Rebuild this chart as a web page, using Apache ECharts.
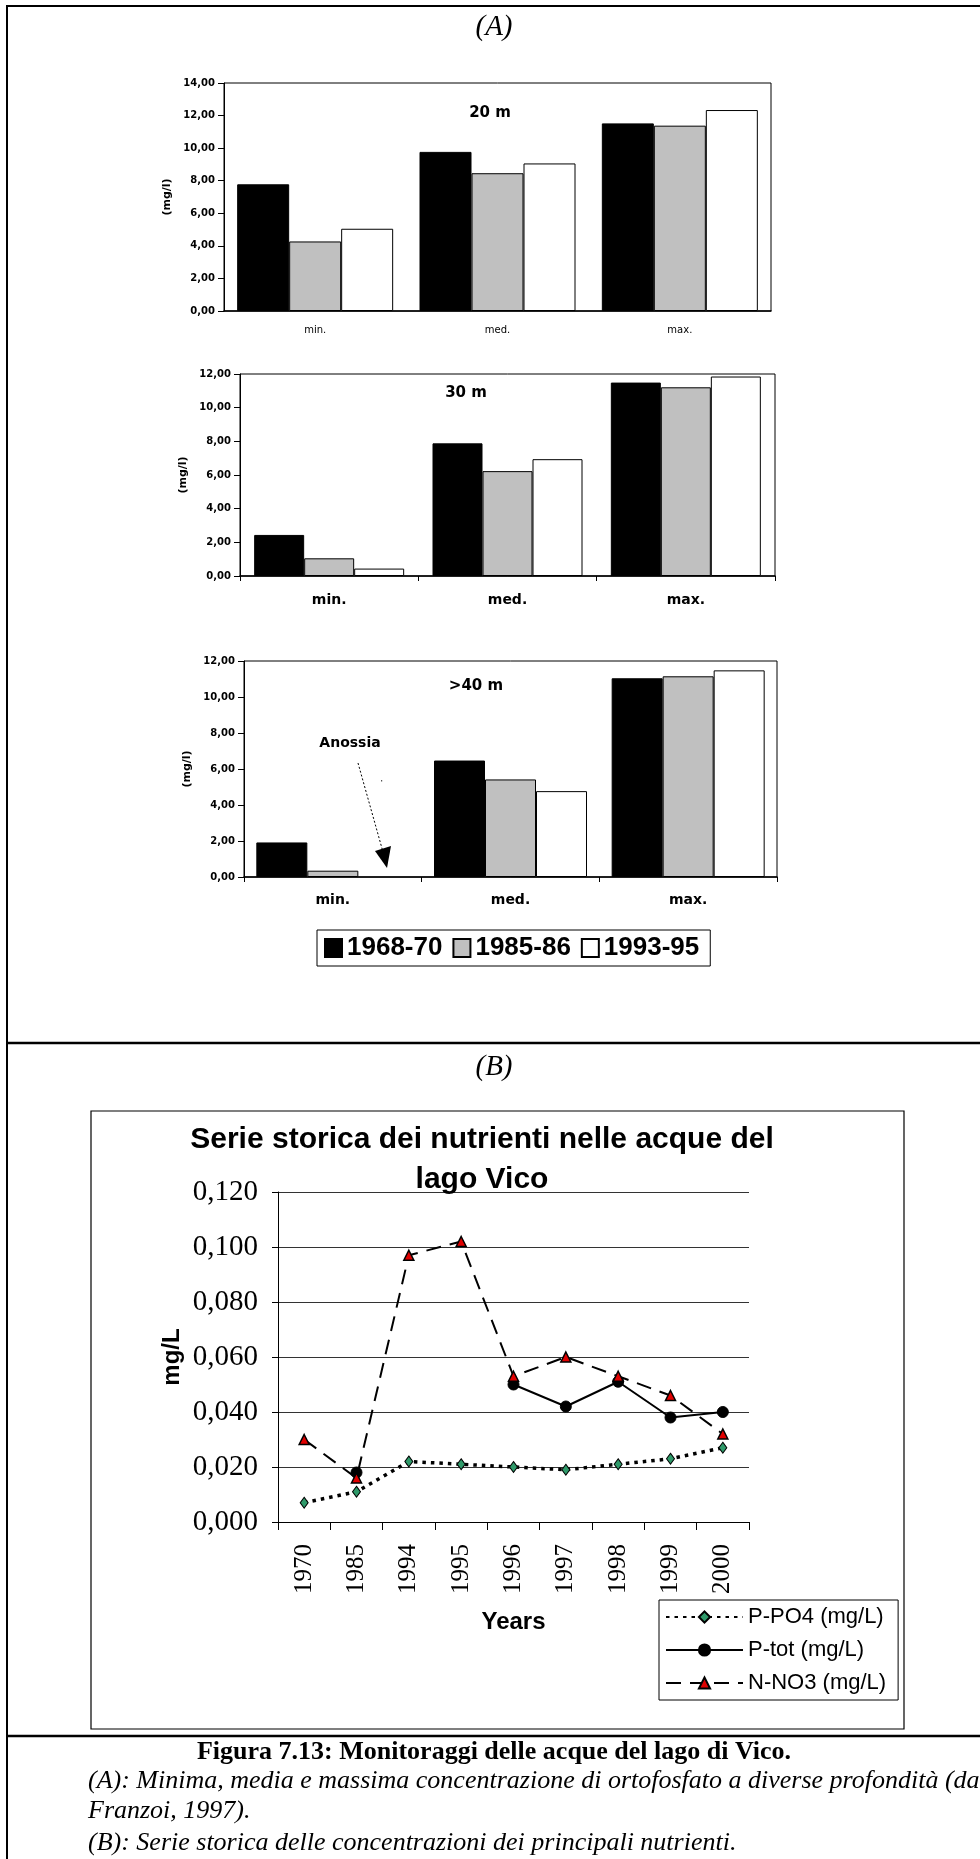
<!DOCTYPE html>
<html><head><meta charset="utf-8">
<script src="https://cdn.jsdelivr.net/npm/echarts@6/dist/echarts.min.js"></script>
<style>html,body{margin:0;padding:0;background:#fff;}#c{width:980px;height:1859px;}</style>
</head><body><div id="c"></div>
<script>
// ---------- DATA ----------
const barCategories = ['min.', 'med.', 'max.'];
const periodNames = ['1968-70', '1985-86', '1993-95'];
const depth20_1968 = [7.78, 9.77, 11.52];
const depth20_1985 = [4.27, 8.46, 11.38];
const depth20_1993 = [5.05, 9.06, 12.34];
const depth30_1968 = [2.44, 7.88, 11.49];
const depth30_1985 = [1.05, 6.23, 11.21];
const depth30_1993 = [0.44, 6.94, 11.85];
const depth40_1968 = [1.92, 6.47, 11.04];
const depth40_1985 = [0.35, 5.42, 11.15];
const depth40_1993 = [null, 4.77, 11.48];
const yTicks20 = ['0,00', '2,00', '4,00', '6,00', '8,00', '10,00', '12,00', '14,00'];
const yTicks30 = ['0,00', '2,00', '4,00', '6,00', '8,00', '10,00', '12,00'];

const years = ['1970', '1985', '1994', '1995', '1996', '1997', '1998', '1999', '2000'];
const lineNames = ['P-PO4 (mg/L)', 'P-tot (mg/L)', 'N-NO3 (mg/L)'];
const pPO4 = [0.007, 0.011, 0.022, 0.021, 0.020, 0.019, 0.021, 0.023, 0.027];
const pTot = [null, 0.018, null, null, 0.050, 0.042, 0.051, 0.038, 0.040];
const nNO3 = [0.030, 0.016, 0.097, 0.102, 0.053, 0.060, 0.053, 0.046, 0.032];
const yTicksB = ['0,000', '0,020', '0,040', '0,060', '0,080', '0,100', '0,120'];

// ---------- CHART ----------
const chart = echarts.init(document.getElementById('c'), null, {renderer: 'canvas'});
const SANS = 'Liberation Sans', SERIF = 'Liberation Serif', DV = 'DejaVu Sans';
const barColors = ['#000000', '#c0c0c0', '#ffffff'];

function barAxisY(idx, max, ticks, nameGap) {
  return {
    gridIndex: idx, type: 'value', min: 0, max: max, interval: 2,
    axisLine: {show: true, lineStyle: {color: '#000', width: 1}},
    axisTick: {show: true, length: 6, lineStyle: {color: '#000'}},
    splitLine: {show: false},
    axisLabel: {margin: 9, fontFamily: DV, fontWeight: 'bold', fontSize: 10, color: '#000',
      formatter: v => ticks[Math.round(v / 2)]},
    name: '(mg/l)', nameLocation: 'middle', nameRotate: 90, nameGap: nameGap,
    nameTextStyle: {fontFamily: DV, fontWeight: 'bold', fontSize: 11, color: '#000'}
  };
}
function barAxisX(idx, big, margin) {
  return {
    gridIndex: idx, type: 'category', data: barCategories,
    axisLine: {lineStyle: {color: '#000', width: 1.5}},
    axisTick: {show: big, length: 5, lineStyle: {color: '#000'}},
    axisLabel: {margin: margin, fontFamily: DV, fontWeight: big ? 'bold' : 'normal',
      fontSize: big ? 14 : 10, color: '#000'}
  };
}
function bar(name, data, idx, k, w) {
  return {type: 'bar', name: name, data: data, xAxisIndex: idx, yAxisIndex: idx,
    barWidth: w, barGap: '0%', itemStyle: {color: barColors[k], borderColor: '#000', borderWidth: 1}};
}

const tx = (text, x, y, font, align, extra) => Object.assign({
  type: 'text', x: x, y: y, z: 10,
  style: {text: text, font: font, fill: '#000', align: align || 'center', verticalAlign: 'middle'}
}, extra || {});
const ln = (x1, y1, x2, y2, w, dash) => ({
  type: 'line', z: 10, shape: {x1: x1, y1: y1, x2: x2, y2: y2},
  style: {stroke: '#000', lineWidth: w, lineDash: dash || null}
});

const option = {
  animation: false,
  backgroundColor: '#fff',
  grid: [
    {left: 224, top: 83, width: 547, height: 228, show: true, borderColor: '#000', borderWidth: 1},
    {left: 240, top: 374, width: 535, height: 202, show: true, borderColor: '#000', borderWidth: 1},
    {left: 244, top: 661, width: 533, height: 216, show: true, borderColor: '#000', borderWidth: 1},
    {left: 278, top: 1192, width: 471, height: 330, show: false}
  ],
  xAxis: [
    barAxisX(0, false, 14),
    barAxisX(1, true, 17),
    barAxisX(2, true, 16),
    {
      gridIndex: 3, type: 'category', data: years,
      axisLine: {lineStyle: {color: '#000', width: 1}},
      axisTick: {show: true, length: 8, lineStyle: {color: '#000'}},
      axisLabel: {rotate: 90, margin: 22, fontFamily: SERIF, fontSize: 25, color: '#000'},
      name: 'Years', nameLocation: 'middle', nameGap: 88,
      nameTextStyle: {fontFamily: SANS, fontWeight: 'bold', fontSize: 24, color: '#000'}
    }
  ],
  yAxis: [
    barAxisY(0, 14, yTicks20, 49),
    barAxisY(1, 12, yTicks30, 44),
    barAxisY(2, 12, yTicks30, 43),
    {
      gridIndex: 3, type: 'value', min: 0, max: 0.12, interval: 0.02,
      axisLine: {show: true, lineStyle: {color: '#000'}},
      axisTick: {show: true, length: 6, lineStyle: {color: '#000'}},
      splitLine: {show: true, lineStyle: {color: '#333', width: 1}},
      axisLabel: {margin: 20, fontFamily: SERIF, fontSize: 29, color: '#000',
        formatter: v => yTicksB[Math.round(v / 0.02)]},
      name: 'mg/L', nameLocation: 'middle', nameRotate: 90, nameGap: 94,
      nameTextStyle: {fontFamily: SANS, fontWeight: 'bold', fontSize: 24, color: '#000'}
    }
  ],
  legend: [
    {
      data: periodNames, left: 317, top: 930, orient: 'horizontal', icon: 'rect',
      itemWidth: 17, itemHeight: 18, itemGap: 10, itemTextGap: 5, padding: [3, 11, 3, 7],
      borderColor: '#000', borderWidth: 1, backgroundColor: '#fff', selectedMode: false,
      textStyle: {fontFamily: SANS, fontWeight: 'bold', fontSize: 26, color: '#000', lineHeight: 30}
    },
    {
      data: lineNames, left: 659, top: 1600, orient: 'vertical',
      itemWidth: 77, itemHeight: 14, itemGap: 11, itemTextGap: 5, padding: [6, 12, 6, 6],
      borderColor: '#000', borderWidth: 1, backgroundColor: '#fff', selectedMode: false,
      textStyle: {fontFamily: SANS, fontSize: 22, color: '#000', lineHeight: 22}
    }
  ],
  series: [
    bar(periodNames[0], depth20_1968, 0, 0, 52),
    bar(periodNames[1], depth20_1985, 0, 1, 52),
    bar(periodNames[2], depth20_1993, 0, 2, 52),
    bar(periodNames[0], depth30_1968, 1, 0, 50),
    bar(periodNames[1], depth30_1985, 1, 1, 50),
    bar(periodNames[2], depth30_1993, 1, 2, 50),
    bar(periodNames[0], depth40_1968, 2, 0, 51),
    bar(periodNames[1], depth40_1985, 2, 1, 51),
    bar(periodNames[2], depth40_1993, 2, 2, 51),
    {
      type: 'line', name: lineNames[0], data: pPO4, xAxisIndex: 3, yAxisIndex: 3,
      symbol: 'diamond', symbolSize: [8, 11],
      itemStyle: {color: '#2f9a6a', borderColor: '#000', borderWidth: 1},
      lineStyle: {color: '#000', width: 3.5, type: [3.5, 5]}
    },
    {
      type: 'line', name: lineNames[1], data: pTot, xAxisIndex: 3, yAxisIndex: 3,
      symbol: 'circle', symbolSize: 11, connectNulls: false,
      itemStyle: {color: '#000', borderColor: '#000', borderWidth: 1},
      lineStyle: {color: '#000', width: 2, type: 'solid'}
    },
    {
      type: 'line', name: lineNames[2], data: nNO3, xAxisIndex: 3, yAxisIndex: 3,
      symbol: 'triangle', symbolSize: 10,
      itemStyle: {color: '#e00000', borderColor: '#000', borderWidth: 1.5},
      lineStyle: {color: '#000', width: 2, type: [15, 9]}
    }
  ],
  graphic: [
    // page frame
    ln(6, 6, 980, 6, 2), ln(7, 5, 7, 1859, 2),
    ln(7, 1043, 980, 1043, 2.5), ln(7, 1736, 980, 1736, 2.5),
    tx('(A)', 494, 27, 'italic 29px "Liberation Serif"'),
    tx('(B)', 494, 1067, 'italic 29px "Liberation Serif"'),
    tx('20 m', 490, 113, 'bold 15px "DejaVu Sans"'),
    tx('30 m', 466, 393, 'bold 15px "DejaVu Sans"'),
    tx('>40 m', 476, 686, 'bold 15px "DejaVu Sans"'),
    tx('Anossia', 350, 743, 'bold 14px "DejaVu Sans"'),
    ln(358, 763, 383, 852, 1, [2, 2]),
    {type: 'polygon', z: 10, shape: {points: [[375, 851], [391, 846], [387, 868]]}, style: {fill: '#000'}},
    {type: 'rect', z: 10, shape: {x: 381, y: 780, width: 1.2, height: 1.5}, style: {fill: '#555'}},
    // chart B box
    {type: 'rect', z: -1, shape: {x: 91, y: 1111, width: 813, height: 618},
      style: {fill: 'none', stroke: '#000', lineWidth: 1.2}},
    tx('Serie storica dei nutrienti nelle acque del', 482, 1140, 'bold 30px "Liberation Sans"'),
    tx('lago Vico', 482, 1180, 'bold 30px "Liberation Sans"'),
    // caption
    tx('Figura 7.13: Monitoraggi delle acque del lago di Vico.', 494, 1752, 'bold 26px "Liberation Serif"'),
    tx('(A): Minima, media e massima concentrazione di ortofosfato a diverse profondità (da', 88, 1781, 'italic 26px "Liberation Serif"', 'left'),
    tx('Franzoi, 1997).', 88, 1811, 'italic 26px "Liberation Serif"', 'left'),
    tx('(B): Serie storica delle concentrazioni dei principali nutrienti.', 88, 1843, 'italic 26px "Liberation Serif"', 'left')
  ]
};
chart.setOption(option);
</script></body></html>
